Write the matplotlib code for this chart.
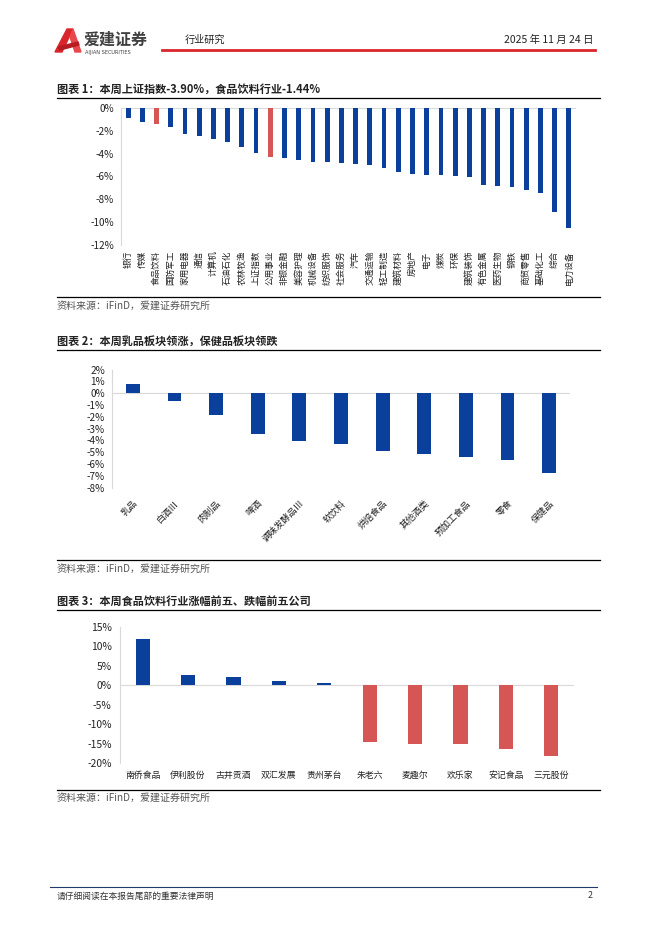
import matplotlib
matplotlib.use("Agg")
import matplotlib.pyplot as plt
from matplotlib.patches import Polygon
from matplotlib.lines import Line2D

plt.rcParams['font.family'] = ['Noto Sans CJK SC', 'DejaVu Sans']
plt.rcParams['axes.unicode_minus'] = False

W, H = 662, 936
BLUE = '#0A3F9C'
RED = '#D65555'
GRID = '#D9D9D9'

# 图表1 数据
ind_names = ['银行', '传媒', '食品饮料', '国防军工', '家用电器', '通信', '计算机', '石油石化',
             '农林牧渔', '上证指数', '公用事业', '非银金融', '美容护理', '机械设备', '纺织服饰',
             '社会服务', '汽车', '交通运输', '轻工制造', '建筑材料', '房地产', '电子', '煤炭',
             '环保', '建筑装饰', '有色金属', '医药生物', '钢铁', '商贸零售', '基础化工', '综合', '电力设备']
ind_chg = [-0.88, -1.23, -1.44, -1.70, -2.25, -2.46, -2.72, -2.98, -3.42, -3.90, -4.30, -4.42,
           -4.53, -4.74, -4.77, -4.82, -4.88, -4.97, -5.23, -5.64, -5.79, -5.88, -5.88, -5.99,
           -6.08, -6.73, -6.84, -6.96, -7.22, -7.46, -9.15, -10.50]
ind_red = [2, 10]

# 图表2 数据
sub_names = ['乳品', '白酒Ⅲ', '肉制品', '啤酒', '调味发酵品Ⅲ', '软饮料', '烘焙食品', '其他酒类',
             '预加工食品', '零食', '保健品']
sub_chg = [0.78, -0.64, -1.83, -3.50, -4.06, -4.30, -4.92, -5.19, -5.39, -5.67, -6.75]

# 图表3 数据
co_names = ['南侨食品', '伊利股份', '古井贡酒', '双汇发展', '贵州茅台', '朱老六', '麦趣尔', '欢乐家',
            '安记食品', '三元股份']
co_chg = [11.9, 2.6, 2.07, 1.2, 0.69, -14.66, -15.0, -15.17, -16.3, -18.2]


def fx(x):
    return x / W


def fy(y):
    return 1 - y / H


def box(l, t, r, b):
    return [fx(l), fy(b), (r - l) / W, (b - t) / H]


def hline(fig, x0, x1, y, color='black', lw=0.9):
    fig.add_artist(Line2D([fx(x0), fx(x1)], [fy(y), fy(y)], color=color, lw=lw,
                          transform=fig.transFigure))


def text(fig, x, y, s, **kw):
    fig.text(fx(x), fy(y), s, **kw)


def style(ax):
    for s in ['top', 'right', 'bottom']:
        ax.spines[s].set_visible(False)
    ax.spines['left'].set_color(GRID)
    ax.spines['left'].set_linewidth(0.8)
    ax.tick_params(axis='both', length=0, colors='#222222')
    ax.axhline(0, color=GRID, lw=0.8, zorder=1)


fig = plt.figure(figsize=(W / 100, H / 100), dpi=100)

# 页眉
fig.add_artist(Polygon([(fx(55), fy(52)), (fx(67), fy(29)), (fx(73), fy(29)), (fx(62), fy(52))],
                       closed=True, color='#D9262C', transform=fig.transFigure))
fig.add_artist(Polygon([(fx(73), fy(29)), (fx(81), fy(52)), (fx(75), fy(52)), (fx(70), fy(37))],
                       closed=True, color='#E8474B', transform=fig.transFigure))
fig.add_artist(Polygon([(fx(58), fy(47)), (fx(78), fy(42)), (fx(79), fy(45)), (fx(60), fy(50))],
                       closed=True, color='#B71C22', transform=fig.transFigure))
text(fig, 84, 40, '爱建证券', fontsize=11.5, fontweight='bold', color='#404040', va='center')
text(fig, 85, 52.5, 'AIJIAN SECURITIES', fontsize=3.6, color='#404040', va='center',
     family=['DejaVu Sans'])
text(fig, 185, 40, '行业研究', fontsize=7.3, color='#222222', va='center')
text(fig, 593, 40, '2025 年 11 月 24 日', fontsize=7.5, color='#222222', va='center', ha='right')
hline(fig, 162, 595, 50, color='#D9262C', lw=2.0)

# 图表1
text(fig, 57, 89, '图表 1：本周上证指数-3.90%，食品饮料行业-1.44%', fontsize=8,
     fontweight='bold', color='#222222', va='center')
hline(fig, 57, 600, 98)
ax1 = fig.add_axes(box(121, 108, 576, 245))
x1 = range(len(ind_names))
c1 = [RED if i in ind_red else BLUE for i in x1]
ax1.bar(x1, ind_chg, width=0.34, color=c1, zorder=2)
ax1.set_ylim(-12, 0)
ax1.set_xlim(-0.5, len(ind_names) - 0.5)
ax1.set_yticks(range(-12, 1, 2))
ax1.set_yticklabels([f'{v}%' for v in range(-12, 1, 2)], fontsize=7.2)
ax1.set_xticks(list(x1))
ax1.set_xticklabels(ind_names, rotation=90, fontsize=6.2, va='top', ha='center')
style(ax1)
ax1.tick_params(axis='y', pad=5)
ax1.tick_params(axis='x', pad=4)
hline(fig, 57, 600, 297)
text(fig, 57, 306, '资料来源：iFinD，爱建证券研究所', fontsize=7.2, color='#555555', va='center')

# 图表2
text(fig, 57, 341, '图表 2：本周乳品板块领涨，保健品板块领跌', fontsize=8,
     fontweight='bold', color='#222222', va='center')
hline(fig, 57, 600, 350)
ax2 = fig.add_axes(box(112, 369.5, 570, 487.5))
x2 = range(len(sub_names))
ax2.bar(x2, sub_chg, width=0.33, color=BLUE, zorder=2)
ax2.set_ylim(-8, 2)
ax2.set_xlim(-0.5, len(sub_names) - 0.5)
ax2.set_yticks(range(-8, 3))
ax2.set_yticklabels([f'{v}%' for v in range(-8, 3)], fontsize=7.2)
ax2.set_xticks(list(x2))
ax2.set_xticklabels(sub_names, rotation=45, fontsize=6.6, ha='right', va='top',
                    rotation_mode='anchor')
style(ax2)
ax2.tick_params(axis='y', pad=5)
ax2.tick_params(axis='x', pad=8)
hline(fig, 57, 600, 560)
text(fig, 57, 569, '资料来源：iFinD，爱建证券研究所', fontsize=7.2, color='#555555', va='center')

# 图表3
text(fig, 57, 601, '图表 3：本周食品饮料行业涨幅前五、跌幅前五公司', fontsize=8,
     fontweight='bold', color='#222222', va='center')
hline(fig, 57, 600, 610)
ax3 = fig.add_axes(box(120, 627, 574, 763))
x3 = range(len(co_names))
c3 = [BLUE if v > 0 else RED for v in co_chg]
ax3.bar(x3, co_chg, width=0.31, color=c3, zorder=2)
ax3.set_ylim(-20, 15)
ax3.set_xlim(-0.5, len(co_names) - 0.5)
ax3.set_yticks(range(-20, 16, 5))
ax3.set_yticklabels([f'{v}%' for v in range(-20, 16, 5)], fontsize=7.4)
ax3.set_xticks(list(x3))
ax3.set_xticklabels(co_names, fontsize=6.4, va='baseline')
style(ax3)
ax3.tick_params(axis='y', pad=6)
ax3.tick_params(axis='x', pad=11)
hline(fig, 57, 600, 790)
text(fig, 57, 798, '资料来源：iFinD，爱建证券研究所', fontsize=7.2, color='#555555', va='center')

# 页脚
hline(fig, 50, 597, 887, color='#1F3A6B', lw=0.8)
text(fig, 57, 896, '请仔细阅读在本报告尾部的重要法律声明', fontsize=6.3, color='#333333', va='center')
text(fig, 592, 896, '2', fontsize=6.3, color='#333333', va='center', ha='right')

fig.savefig('out.png', dpi=100)
